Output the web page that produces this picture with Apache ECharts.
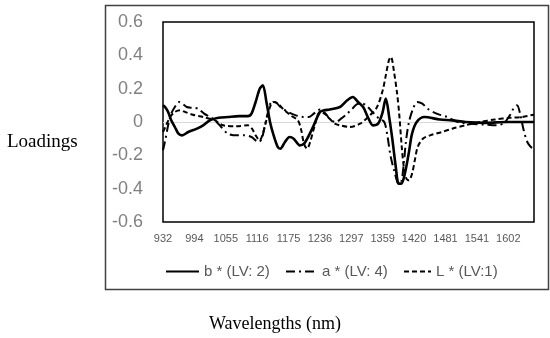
<!DOCTYPE html>
<html><head><meta charset="utf-8">
<script src="https://cdn.jsdelivr.net/npm/echarts/dist/echarts.min.js"></script>
<style>html,body{margin:0;padding:0;background:#fff}#c{width:550px;height:338px}</style>
</head><body><div id="c"></div>
<script>
const xTickLabels = ['932','994','1055','1116','1175','1236','1297','1359','1420','1481','1541','1602'];
const seriesNames = ['b * (LV: 2)', 'a * (LV: 4)', 'L * (LV:1)'];

const bWave = [932,936,942,948,955,962,969,981,998,1010,1023,1040,1058,1080,1097,1104,1112,1120,1126,1133,1140,1146,1155,1160,1169,1178,1186,1198,1206,1214,1222,1237,1245,1256,1276,1290,1301,1311,1321,1330,1340,1350,1358,1365,1372,1378,1384,1390,1395,1402,1410,1416,1425,1440,1470,1494,1520,1560,1600,1653];
const bVal  = [0.10,0.09,0.06,0.01,-0.03,-0.07,-0.08,-0.06,-0.04,-0.02,0.01,0.025,0.03,0.035,0.035,0.05,0.12,0.2,0.22,0.12,0.0,-0.07,-0.15,-0.16,-0.12,-0.09,-0.1,-0.14,-0.13,-0.09,-0.04,0.06,0.07,0.075,0.09,0.13,0.15,0.12,0.09,0.03,-0.02,-0.01,0.05,0.14,0.02,-0.11,-0.26,-0.37,-0.37,-0.31,-0.18,-0.07,0.0,0.03,0.015,0.01,0.0,-0.005,0.0,0.0];

const aWave = [932,937,942,948,955,963,970,978,990,1000,1012,1023,1033,1045,1058,1076,1090,1104,1112,1118,1124,1130,1137,1143,1150,1160,1175,1190,1205,1215,1225,1237,1248,1258,1268,1278,1290,1300,1311,1320,1330,1342,1352,1362,1368,1374,1382,1390,1395,1400,1404,1410,1418,1426,1436,1446,1464,1484,1505,1530,1555,1580,1595,1606,1613,1620,1626,1633,1640,1647,1653];
const aVal  = [-0.17,-0.1,-0.02,0.05,0.09,0.12,0.11,0.09,0.085,0.08,0.05,0.03,0.01,-0.03,-0.07,-0.08,-0.08,-0.09,-0.11,-0.12,-0.1,-0.02,0.07,0.12,0.12,0.09,0.06,0.04,0.03,0.03,0.05,0.075,0.05,0.01,0.0,0.02,0.05,0.08,0.11,0.11,0.09,0.05,0.02,0.0,-0.08,-0.2,-0.3,-0.37,-0.36,-0.25,-0.12,0.0,0.08,0.12,0.11,0.08,0.05,0.03,0.0,-0.01,-0.015,-0.02,-0.005,0.04,0.08,0.1,0.05,-0.05,-0.12,-0.15,-0.16];

const lWave = [932,938,946,955,965,975,988,1010,1033,1049,1075,1097,1105,1112,1120,1126,1132,1140,1146,1155,1165,1180,1194,1200,1206,1212,1218,1227,1237,1246,1256,1266,1276,1295,1315,1334,1348,1359,1365,1371,1375,1381,1387,1391,1396,1400,1405,1410,1416,1422,1427,1437,1451,1474,1494,1519,1548,1577,1606,1630,1653];
const lVal  = [-0.06,-0.02,0.03,0.06,0.07,0.06,0.045,0.03,0.01,-0.02,-0.025,-0.02,-0.04,-0.08,-0.11,-0.07,0.0,0.09,0.12,0.11,0.08,0.04,0.01,-0.04,-0.13,-0.16,-0.12,-0.02,0.06,0.05,0.02,-0.01,-0.02,-0.03,-0.01,0.04,0.09,0.19,0.28,0.37,0.39,0.3,0.17,0.05,-0.15,-0.27,-0.34,-0.35,-0.31,-0.22,-0.15,-0.10,-0.08,-0.06,-0.04,-0.02,0.0,0.015,0.025,0.03,0.045];

function pairs(xs, ys){ return xs.map((x,i)=>[x, ys[i]]); }

const chart = echarts.init(document.getElementById('c'), null, {renderer:'canvas'});
const legendText = {color:'#595959', fontSize:15, fontFamily:'Liberation Sans, Arial, sans-serif'};
const legendItem = {opacity:0, borderWidth:0, color:'rgba(0,0,0,0)'};
chart.setOption({
  animation:false,
  backgroundColor:'#fff',
  grid:{left:163, right:16, top:22, bottom:116, show:true, borderColor:'#000', borderWidth:1.5},
  xAxis:{
    type:'value', min:932, max:1653, interval:61,
    axisLine:{show:false}, axisTick:{show:false}, splitLine:{show:false},
    axisLabel:{color:'#595959', fontSize:11, margin:11, fontFamily:'Liberation Sans, Arial, sans-serif',
      showMaxLabel:false,
      formatter:function(v){ const i=(v-932)/61; const r=Math.round(i); return (Math.abs(i-r)<1e-6 && r>=0 && r<xTickLabels.length) ? xTickLabels[r] : ''; }}
  },
  yAxis:{
    type:'value', min:-0.6, max:0.6, interval:0.2,
    axisLine:{show:false}, axisTick:{show:false},
    splitLine:{show:true, lineStyle:{width:1, color:['rgba(0,0,0,0)','rgba(0,0,0,0)','rgba(0,0,0,0)','#d9d9d9','rgba(0,0,0,0)','rgba(0,0,0,0)','rgba(0,0,0,0)']}},
    axisLabel:{color:'#808080', fontSize:18, margin:20, fontFamily:'Liberation Sans, Arial, sans-serif',
      formatter:function(v){ return String(+v.toFixed(1)); }}
  },
  legend:[
    {data:[seriesNames[0]], left:160, top:259, itemWidth:33, itemHeight:14, itemStyle:legendItem, textStyle:legendText},
    {data:[seriesNames[1]], left:280, top:259, itemWidth:31, itemHeight:14, itemStyle:legendItem, textStyle:legendText},
    {data:[seriesNames[2]], left:398, top:259, itemWidth:27, itemHeight:14, itemStyle:legendItem, textStyle:legendText}
  ],
  graphic:[
    {type:'rect', left:103, top:3, silent:true, z:-10, shape:{width:443, height:284}, style:{fill:'none', stroke:'#404040', lineWidth:1.5}},
    {type:'text', left:7, top:133, silent:true, style:{text:'Loadings', font:'19px "Liberation Serif", "Times New Roman", serif', fill:'#000'}},
    {type:'text', left:'center', top:315, silent:true, style:{text:'Wavelengths (nm)', font:'18px "Liberation Serif", "Times New Roman", serif', fill:'#000'}}
  ],
  series:[
    {name:seriesNames[0], type:'line', data:pairs(bWave,bVal), symbol:'none', smooth:0.3, lineStyle:{color:'#000', width:2.6, type:'solid'}, itemStyle:{color:'#000'}},
    {name:seriesNames[1], type:'line', data:pairs(aWave,aVal), symbol:'none', smooth:0.3, lineStyle:{color:'#000', width:2, type:[9,4,2,4]}, itemStyle:{color:'#000'}},
    {name:seriesNames[2], type:'line', data:pairs(lWave,lVal), symbol:'none', smooth:0.3, lineStyle:{color:'#000', width:2, type:[5,3]}, itemStyle:{color:'#000'}}
  ]
});
</script></body></html>
